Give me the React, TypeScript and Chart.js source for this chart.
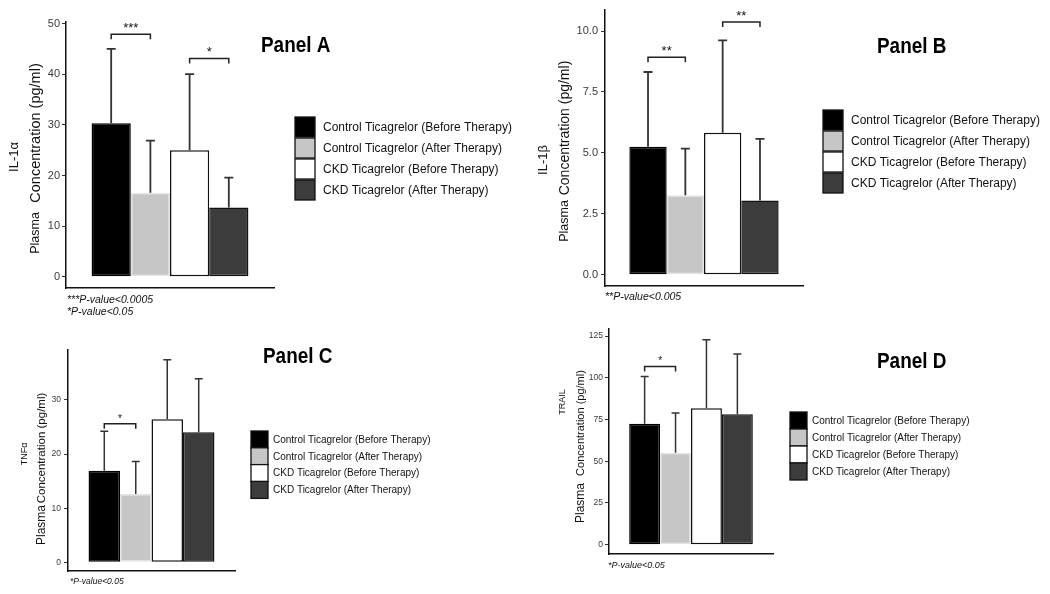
import React, { useEffect, useRef } from 'react';
import { Chart, registerables } from 'chart.js';

Chart.register(...registerables);

// ---------- data ----------
const groupLabels = [
  'Control Ticagrelor (Before Therapy)',
  'Control Ticagrelor (After Therapy)',
  'CKD Ticagrelor (Before Therapy)',
  'CKD Ticagrelor (After Therapy)',
];

const il1aMean = [30.3, 16.6, 25.0, 13.7];
const il1aUpper = [45.0, 26.9, 40.0, 19.6];
const il1aTicks = [0, 10, 20, 30, 40, 50];
const il1aTickLabels = ['0', '10', '20', '30', '40', '50'];
const il1aSig = [
  { from: 0, to: 1, at: 47.9, label: '***' },
  { from: 2, to: 3, at: 43.1, label: '*' },
];
const il1aNotes = ['***P-value<0.0005', '*P-value<0.05'];

const il1bMean = [5.25, 3.26, 5.83, 3.05];
const il1bUpper = [8.32, 5.18, 9.62, 5.58];
const il1bTicks = [0, 2.5, 5, 7.5, 10];
const il1bTickLabels = ['0.0', '2.5', '5.0', '7.5', '10.0'];
const il1bSig = [
  { from: 0, to: 1, at: 8.93, label: '**' },
  { from: 2, to: 3, at: 10.37, label: '**' },
];
const il1bNotes = ['**P-value<0.005'];

const tnfaMean = [16.9, 12.6, 26.4, 24.0];
const tnfaUpper = [24.2, 18.6, 37.4, 33.9];
const tnfaTicks = [0, 10, 20, 30];
const tnfaTickLabels = ['0', '10', '20', '30'];
const tnfaSig = [{ from: 0, to: 1, at: 25.6, label: '*' }];
const tnfaNotes = ['*P-value<0.05'];

const trailMean = [72.4, 55.0, 81.7, 78.1];
const trailUpper = [100.7, 78.9, 122.8, 114.2];
const trailTicks = [0, 25, 50, 75, 100, 125];
const trailTickLabels = ['0', '25', '50', '75', '100', '125'];
const trailSig = [{ from: 0, to: 1, at: 106.7, label: '*' }];
const trailNotes = ['*P-value<0.05'];

// ---------- styles ----------
const FONT = '"Liberation Sans", Arial, Helvetica, sans-serif';
const fills = ['#000000', '#c6c6c6', '#ffffff', '#3c3c3c'];
const outlines = ['#000000', '#e4e4e4', '#111111', '#111111'];

type Sig = { from: number; to: number; at: number; label: string };
type YLine = { text: string; x: number; y: number; size: number };
type Spec = {
  title: string;
  mean: number[];
  upper: number[];
  ticks: number[];
  tickLabels: string[];
  sig: Sig[];
  notes: string[];
  box: { left: number; top: number; w: number; h: number };
  area: { l: number; r: number; t: number; b: number };
  range: [number, number];
  tickFont: number;
  tickPad: number;
  cap: number;
  errW: number;
  bracketTick: number;
  starFont: number;
  starGap: number;
  titlePos: { x: number; y: number; size: number };
  legend: { x: number; y: number; sw: number; pitch: number; tx: number; size: number };
  notePos: { x: number; y: number; pitch: number; size: number };
  yTitle: YLine[];
};

const panels: Spec[] = [
  {
    title: 'Panel A',
    mean: il1aMean, upper: il1aUpper, ticks: il1aTicks, tickLabels: il1aTickLabels, sig: il1aSig, notes: il1aNotes,
    box: { left: 0, top: 0, w: 530, h: 320 },
    area: { l: 66, r: 274, t: 22, b: 288 },
    range: [-2.2, 50.3],
    tickFont: 11, tickPad: 2, cap: 9, errW: 1.8, bracketTick: 5, starFont: 13, starGap: 2.5,
    titlePos: { x: 261, y: 46, size: 22 },
    legend: { x: 295, y: 117, sw: 20, pitch: 21, tx: 323, size: 12 },
    notePos: { x: 67, y: 300, pitch: 12, size: 10.5 },
    yTitle: [
      { text: 'IL-1\u03b1', x: 14, y: 157, size: 13 },
      { text: 'Concentration (pg/ml)', x: 36, y: 133, size: 14.5 },
      { text: 'Plasma', x: 36, y: 233, size: 12.5 },
    ],
  },
  {
    title: 'Panel B',
    mean: il1bMean, upper: il1bUpper, ticks: il1bTicks, tickLabels: il1bTickLabels, sig: il1bSig, notes: il1bNotes,
    box: { left: 530, top: 0, w: 520, h: 320 },
    area: { l: 75, r: 273, t: 9, b: 286 },
    range: [-0.46, 10.88],
    tickFont: 11, tickPad: 3, cap: 9, errW: 1.8, bracketTick: 5, starFont: 13, starGap: 2.5,
    titlePos: { x: 347, y: 47, size: 22 },
    legend: { x: 293, y: 110, sw: 20, pitch: 21, tx: 321, size: 12 },
    notePos: { x: 75, y: 297, pitch: 12, size: 10.5 },
    yTitle: [
      { text: 'IL-1\u03b2', x: 13, y: 160, size: 13 },
      { text: 'Concentration (pg/ml)', x: 35, y: 128, size: 14 },
      { text: 'Plasma', x: 35, y: 221, size: 12.5 },
    ],
  },
  {
    title: 'Panel C',
    mean: tnfaMean, upper: tnfaUpper, ticks: tnfaTicks, tickLabels: tnfaTickLabels, sig: tnfaSig, notes: tnfaNotes,
    box: { left: 0, top: 320, w: 530, h: 274 },
    area: { l: 68, r: 235, t: 30, b: 251 },
    range: [-1.6, 39.2],
    tickFont: 8.5, tickPad: 3, cap: 8, errW: 1.5, bracketTick: 5, starFont: 10, starGap: 2,
    titlePos: { x: 263, y: 37, size: 22 },
    legend: { x: 251, y: 111, sw: 17, pitch: 16.8, tx: 273, size: 10 },
    notePos: { x: 70, y: 262, pitch: 11, size: 8.5 },
    yTitle: [
      { text: 'TNF\u03b1', x: 25, y: 134, size: 9 },
      { text: 'Concentration (pg/ml)', x: 42, y: 128, size: 11.5 },
      { text: 'Plasma', x: 42, y: 205, size: 12 },
    ],
  },
  {
    title: 'Panel D',
    mean: trailMean, upper: trailUpper, ticks: trailTicks, tickLabels: trailTickLabels, sig: trailSig, notes: trailNotes,
    box: { left: 530, top: 320, w: 520, h: 274 },
    area: { l: 79, r: 243, t: 9, b: 234 },
    range: [-5.6, 129.2],
    tickFont: 8.5, tickPad: 2, cap: 8, errW: 1.5, bracketTick: 5, starFont: 10, starGap: 2.5,
    titlePos: { x: 347, y: 42, size: 22 },
    legend: { x: 260, y: 92, sw: 17, pitch: 17, tx: 282, size: 10 },
    notePos: { x: 78, y: 245, pitch: 11, size: 9 },
    yTitle: [
      { text: 'TRAIL', x: 33, y: 82, size: 9 },
      { text: 'Concentration (pg/ml)', x: 51, y: 103, size: 11 },
      { text: 'Plasma', x: 51, y: 183, size: 12 },
    ],
  },
];

function makeDecor(spec: Spec) {
  return {
    id: 'decor',
    afterDatasetsDraw(chart: any) {
      const ctx: CanvasRenderingContext2D = chart.ctx;
      const ys = chart.scales.y;
      const centers = spec.mean.map((_, i) => chart.getDatasetMeta(i).data[0].x as number);
      ctx.save();
      // error bars
      ctx.strokeStyle = '#333333';
      ctx.lineWidth = spec.errW;
      spec.upper.forEach((u, i) => {
        const x = centers[i];
        const y0 = ys.getPixelForValue(spec.mean[i]);
        const y1 = ys.getPixelForValue(u);
        ctx.beginPath();
        ctx.moveTo(x, y0);
        ctx.lineTo(x, y1);
        ctx.moveTo(x - spec.cap / 2, y1);
        ctx.lineTo(x + spec.cap / 2, y1);
        ctx.stroke();
      });
      // significance brackets
      ctx.strokeStyle = '#222222';
      ctx.lineWidth = 1.5;
      ctx.fillStyle = '#111111';
      ctx.font = `${spec.starFont}px ${FONT}`;
      ctx.textAlign = 'center';
      ctx.textBaseline = 'alphabetic';
      spec.sig.forEach((s) => {
        const x1 = centers[s.from];
        const x2 = centers[s.to];
        const y = ys.getPixelForValue(s.at);
        ctx.beginPath();
        ctx.moveTo(x1, y + spec.bracketTick);
        ctx.lineTo(x1, y);
        ctx.lineTo(x2, y);
        ctx.lineTo(x2, y + spec.bracketTick);
        ctx.stroke();
        ctx.fillText(s.label, (x1 + x2) / 2, y - spec.starGap);
      });
      ctx.restore();
    },
    afterDraw(chart: any) {
      const ctx: CanvasRenderingContext2D = chart.ctx;
      ctx.save();
      // panel title (condensed bold)
      ctx.save();
      ctx.translate(spec.titlePos.x, spec.titlePos.y);
      ctx.scale(0.86, 1);
      ctx.fillStyle = '#000000';
      ctx.font = `bold ${spec.titlePos.size}px ${FONT}`;
      ctx.textAlign = 'left';
      ctx.textBaseline = 'middle';
      ctx.fillText(spec.title, 0, 0);
      ctx.restore();
      // legend
      const lg = spec.legend;
      ctx.font = `${lg.size}px ${FONT}`;
      ctx.textAlign = 'left';
      ctx.textBaseline = 'middle';
      groupLabels.forEach((g, i) => {
        const top = lg.y + i * lg.pitch;
        ctx.fillStyle = fills[i];
        ctx.fillRect(lg.x, top, lg.sw, lg.sw);
        ctx.strokeStyle = '#111111';
        ctx.lineWidth = 1.3;
        ctx.strokeRect(lg.x, top, lg.sw, lg.sw);
        ctx.fillStyle = '#111111';
        ctx.fillText(g, lg.tx, top + lg.sw / 2 + 0.5);
      });
      // footnotes
      const np = spec.notePos;
      ctx.font = `italic ${np.size}px ${FONT}`;
      ctx.fillStyle = '#111111';
      spec.notes.forEach((n, i) => {
        ctx.fillText(n, np.x, np.y + i * np.pitch);
      });
      // y titles
      ctx.textAlign = 'center';
      spec.yTitle.forEach((t) => {
        ctx.save();
        ctx.translate(t.x, t.y);
        ctx.rotate(-Math.PI / 2);
        ctx.font = `${t.size}px ${FONT}`;
        ctx.fillStyle = '#111111';
        ctx.fillText(t.text, 0, 0);
        ctx.restore();
      });
      ctx.restore();
    },
  };
}

function buildConfig(spec: Spec): any {
  const { w, h } = spec.box;
  const a = spec.area;
  const Y_W = 40;
  return {
    type: 'bar',
    data: {
      labels: [''],
      datasets: groupLabels.map((g, i) => ({
        label: g,
        data: [spec.mean[i]],
        backgroundColor: fills[i],
        borderColor: outlines[i],
        borderWidth: 1.5,
        borderSkipped: false,
        barPercentage: 1,
        categoryPercentage: 0.754,
      })),
    },
    options: {
      responsive: false,
      maintainAspectRatio: false,
      animation: false,
      devicePixelRatio: 1,
      layout: { padding: { left: a.l - Y_W, right: w - a.r, top: a.t, bottom: h - a.b } },
      plugins: { legend: { display: false }, tooltip: { enabled: false }, title: { display: false } },
      scales: {
        x: {
          display: true,
          grid: { display: false },
          ticks: { display: false },
          border: { display: true, color: '#111111', width: 1.5 },
          afterFit: (s: any) => { s.height = 0; },
        },
        y: {
          min: spec.range[0],
          max: spec.range[1],
          afterFit: (s: any) => { s.width = Y_W; },
          afterBuildTicks: (s: any) => { s.ticks = spec.ticks.map((v) => ({ value: v })); },
          ticks: {
            callback: (_v: any, i: number) => spec.tickLabels[i],
            font: { family: FONT, size: spec.tickFont },
            color: '#3a3a3a',
            padding: spec.tickPad,
          },
          grid: { display: true, drawOnChartArea: false, drawTicks: true, tickLength: 4, color: '#333333', lineWidth: 1 },
          border: { display: true, color: '#111111', width: 1.5 },
        },
      },
    },
    plugins: [makeDecor(spec)],
  };
}

function Panel({ spec }: { spec: Spec }) {
  const ref = useRef<HTMLCanvasElement>(null);
  useEffect(() => {
    const chart = new Chart(ref.current as HTMLCanvasElement, buildConfig(spec));
    return () => chart.destroy();
  }, [spec]);
  const { left, top, w, h } = spec.box;
  return (
    <canvas
      ref={ref}
      width={w}
      height={h}
      style={{ position: 'absolute', left, top, width: w, height: h }}
    />
  );
}

export default function App() {
  return (
    <div style={{ position: 'fixed', left: 0, top: 0, width: 1050, height: 594, background: '#ffffff', overflow: 'hidden' }}>
      {panels.map((p) => (
        <Panel key={p.title} spec={p} />
      ))}
    </div>
  );
}
